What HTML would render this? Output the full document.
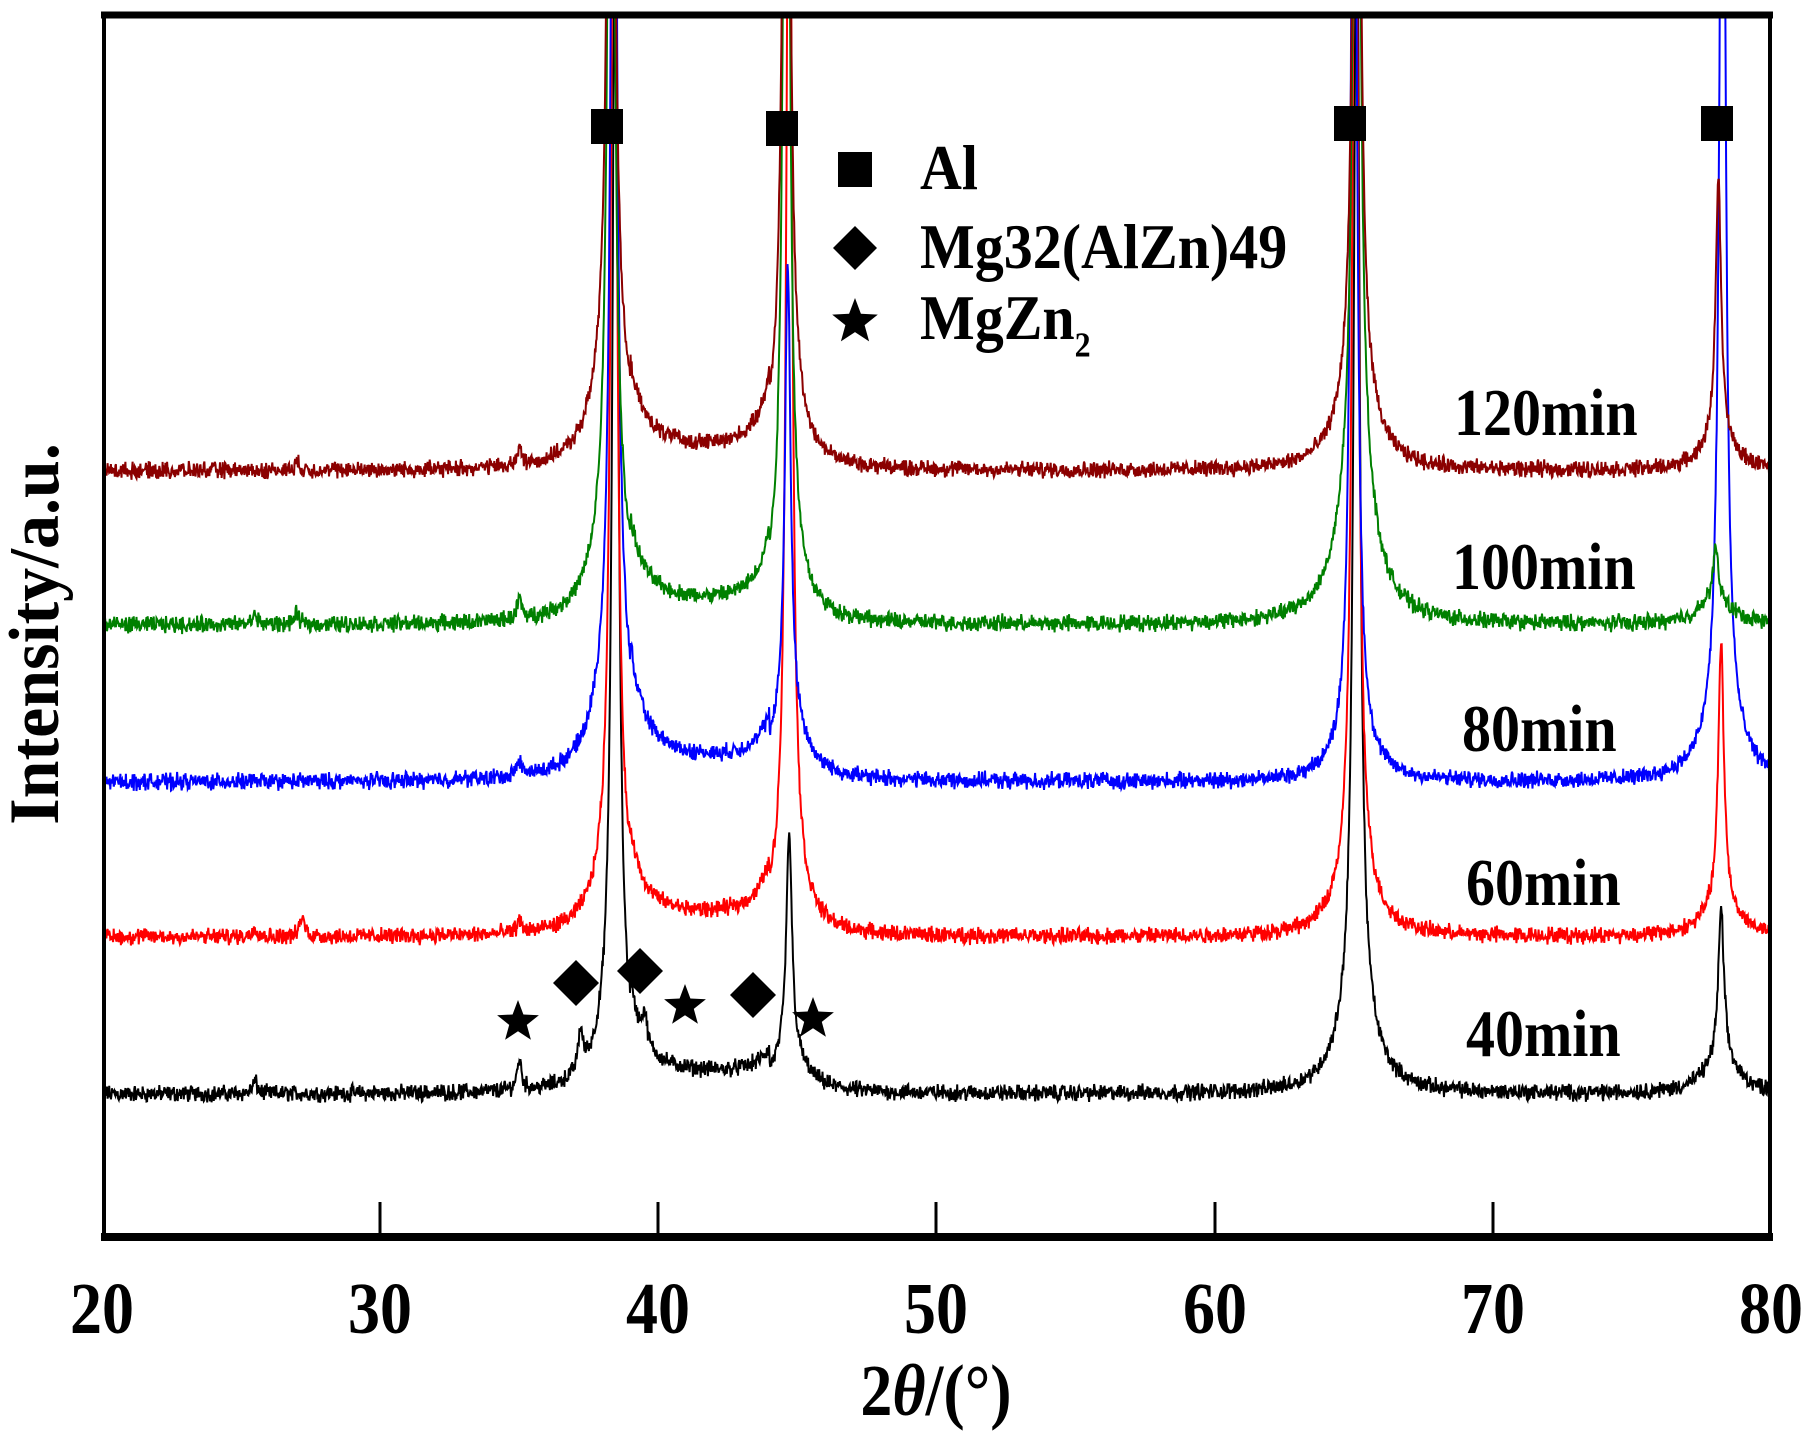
<!DOCTYPE html>
<html><head><meta charset="utf-8"><style>
html,body{margin:0;padding:0;background:#fff}
svg{display:block}
text{font-family:"Liberation Serif",serif;font-weight:bold;fill:#000}
</style></head><body>
<svg id="s" width="1815" height="1431" xmlns="http://www.w3.org/2000/svg">
<defs><clipPath id="c"><rect x="104" y="17" width="1665" height="1218"/></clipPath></defs>
<g id="curves" clip-path="url(#c)"></g>
<rect x="104" y="16" width="1666" height="1220" fill="none" stroke="#000" stroke-width="4"/>
<line x1="101" y1="15" x2="1773" y2="15" stroke="#000" stroke-width="7"/>
<line x1="101" y1="1237" x2="1773" y2="1237" stroke="#000" stroke-width="8"/>
<g stroke="#000" stroke-width="3">
<line x1="380" y1="1235" x2="380" y2="1202"/><line x1="658" y1="1235" x2="658" y2="1202"/>
<line x1="936" y1="1235" x2="936" y2="1202"/><line x1="1215" y1="1235" x2="1215" y2="1202"/>
<line x1="1493" y1="1235" x2="1493" y2="1202"/>
</g>
<g font-size="64" text-anchor="middle">
<text transform="translate(102,1333) scale(1,1.15)">20</text>
<text transform="translate(380,1333) scale(1,1.15)">30</text>
<text transform="translate(658,1333) scale(1,1.15)">40</text>
<text transform="translate(936,1333) scale(1,1.15)">50</text>
<text transform="translate(1215,1333) scale(1,1.15)">60</text>
<text transform="translate(1493,1333) scale(1,1.15)">70</text>
<text transform="translate(1771,1333) scale(1,1.15)">80</text>
<text transform="translate(936,1415) scale(1,1.15)">2<tspan font-style="italic">θ</tspan>/(°)</text>
</g>
<text x="0" y="0" font-size="68" text-anchor="middle" transform="translate(58,634) rotate(-90) scale(1,1.05)">Intensity/a.u.</text>
<g fill="#000">
<rect x="591" y="109" width="32" height="35"/><rect x="766" y="111" width="32" height="35"/>
<rect x="1334" y="106" width="32" height="35"/><rect x="1701" y="106" width="32" height="35"/>
<rect x="838" y="152" width="34" height="35"/>
<polygon points="855,226 877,248 855,270 833,248"/>
<polygon points="576,960 599,983 576,1006 553,983"/>
<polygon points="640,948 663,971 640,994 617,971"/>
<polygon points="753,972 776,995 753,1018 730,995"/>
</g>
<g id="stars"></g>
<g font-size="58">
<text transform="translate(920,189) scale(1,1.1)">Al</text>
<text transform="translate(920,268) scale(1,1.1)">Mg32(AlZn)49</text>
<text transform="translate(920,339) scale(1,1.1)">MgZn<tspan font-size="32" dy="16">2</tspan></text>
<text transform="translate(1454,435) scale(1,1.15)">120min</text>
<text transform="translate(1452,589) scale(1,1.15)">100min</text>
<text transform="translate(1462,751) scale(1,1.15)">80min</text>
<text transform="translate(1466,905) scale(1,1.15)">60min</text>
<text transform="translate(1466,1056) scale(1,1.15)">40min</text>
</g>
</svg>
<script>
var NS="http://www.w3.org/2000/svg";
function star(cx,cy,R){var r=R*0.42,p=[];for(var i=0;i<10;i++){var a=-Math.PI/2+i*Math.PI/5,rr=i%2?r:R;p.push((cx+rr*Math.cos(a)).toFixed(1)+","+(cy+rr*Math.sin(a)).toFixed(1));}
var e=document.createElementNS(NS,"polygon");e.setAttribute("points",p.join(" "));document.getElementById("stars").appendChild(e);}
star(855,322,24);star(518,1022,22);star(685,1006,22);star(813,1019,22);
var seed=12345;function rnd(){seed=(seed*1103515245+12345)%2147483648;return seed/2147483648;}
function X(t){return 102+(t-20)*27.82;}
var S=[
 {c:"#000000",b:1094,p:[[38.45,1200,70],[44.7,220,40],[65.1,1200,90],[78.2,150,35]],m:[[35,30],[37.2,40],[39.5,30],[25.5,12]]},
 {c:"#ff0000",b:937,p:[[38.4,1200,80],[44.7,1200,55],[65.05,1200,70],[78.2,260,35]],m:[[35,12],[27.2,20],[25.5,10]]},
 {c:"#0000ff",b:782,p:[[38.4,1200,130],[44.65,450,65],[65.0,1200,45],[78.25,1200,70]],m:[[35,15]]},
 {c:"#008000",b:625,p:[[38.3,1200,110],[44.6,1200,65],[65.1,1200,160],[78.0,50,25]],m:[[35,20],[27,10],[25.5,10]]},
 {c:"#8b0000",b:471,p:[[38.3,1200,110],[44.6,1200,65],[65.1,1200,90],[78.1,260,30]],m:[[35,15],[27,8]]}
];
var g=document.getElementById("curves");
S.forEach(function(s){var d="";
 for(var t=20;t<=80.001;t+=0.02){var y=0;
  s.p.forEach(function(q){var dx=t-q[0];y+=q[1]/(1+(dx/0.12)*(dx/0.12))+q[2]/(1+(dx/0.7)*(dx/0.7));});
  s.m.forEach(function(q){var dx=t-q[0];y+=q[1]/(1+(dx/0.1)*(dx/0.1));});
  if(t>39&&t<44)y+=18;
  y+=(rnd()-0.5)*12+(rnd()-0.5)*8;
  d+=(d?"L":"M")+X(t).toFixed(1)+","+(s.b-y).toFixed(1);}
 var e=document.createElementNS(NS,"path");e.setAttribute("d",d);e.setAttribute("fill","none");e.setAttribute("stroke",s.c);e.setAttribute("stroke-width","2");g.appendChild(e);});
</script>
</body></html>
